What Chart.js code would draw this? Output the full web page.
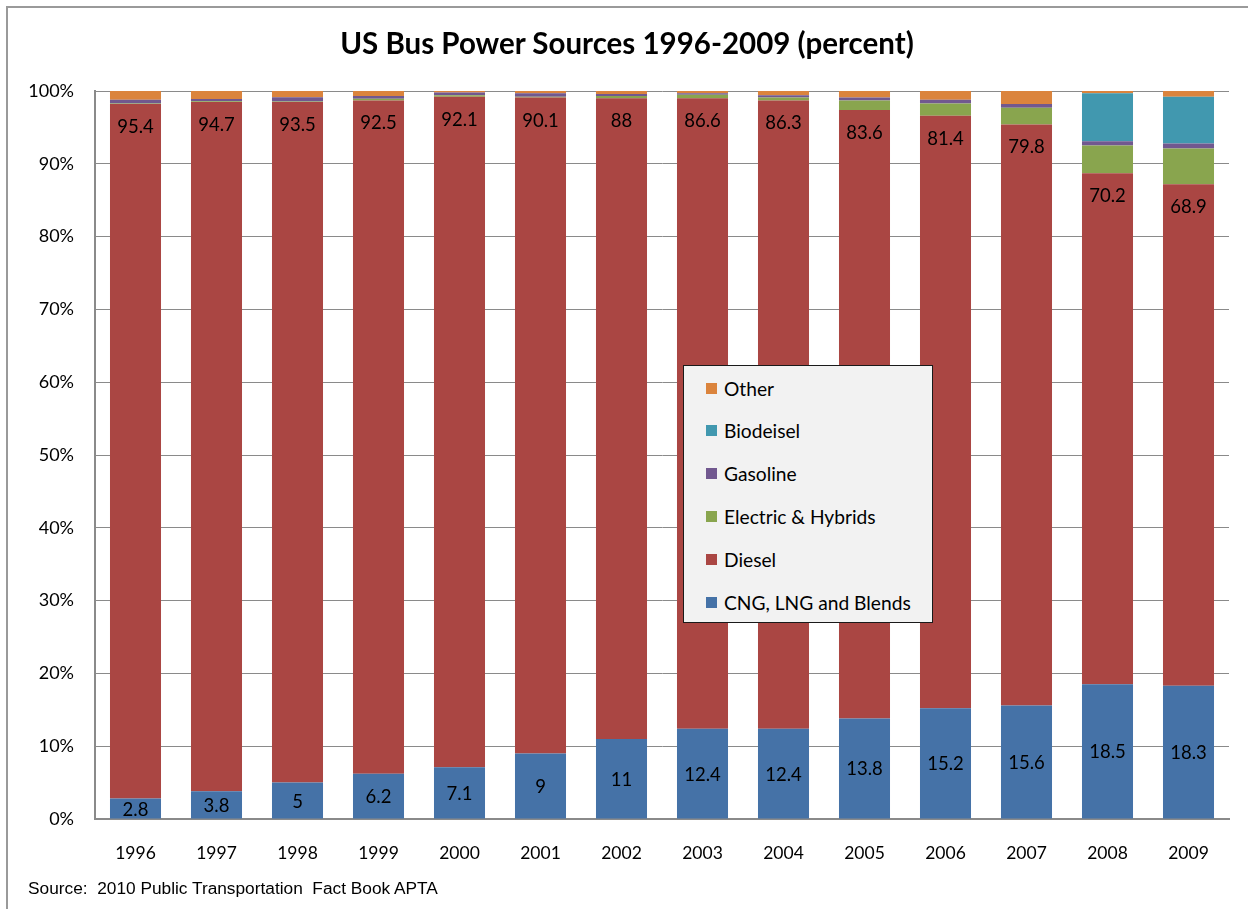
<!DOCTYPE html>
<html>
<head>
<meta charset="utf-8">
<script src="https://cdn.jsdelivr.net/npm/chart.js@4.4.1/dist/chart.umd.min.js"></script>
<style>
  body { margin: 0; background: #fff; }
  #wrap { position: relative; width: 1248px; height: 909px; overflow: hidden; }
  #frame { position: absolute; left: 6px; top: 6px; width: 1300px; height: 1000px;
           border-left: 2px solid #9a9a9a; border-top: 2px solid #9a9a9a; }
  #title { position: absolute; left: 0; width: 1254px; top: 25px; text-align: center;
           font: bold 29.5px Lato, "Open Sans", sans-serif; color: #000; }
  #source { position: absolute; left: 28px; top: 878px;
            font: 17.3px "Liberation Sans", Arial, sans-serif; color: #000; white-space: pre; }
  #legend { position: absolute; left: 683px; top: 365px; width: 248px; height: 256px;
            background: #f2f2f2; border: 1px solid #1a1a1a; }
  .item { position: absolute; left: 22px; height: 20px; font: 19.2px Lato, sans-serif; color: #000;
          display: flex; align-items: center; }
  .item span.sw { width: 11px; height: 11px; margin-right: 7px; display: inline-block; }
  canvas { position: absolute; left: 0; top: 0; }
</style>
</head>
<body>
<div id="wrap">
  <div id="frame"></div>
  <canvas id="chart" width="1248" height="909"></canvas>
  <div id="title">US Bus Power Sources 1996-2009 (percent)</div>
  <div id="legend"></div>
  <div id="source">Source:  2010 Public Transportation  Fact Book APTA</div>
</div>
<script>
const years = ['1996','1997','1998','1999','2000','2001','2002','2003','2004','2005','2006','2007','2008','2009'];

const cng      = [2.8, 3.8, 5, 6.2, 7.1, 9, 11, 12.4, 12.4, 13.8, 15.2, 15.6, 18.5, 18.3];
const diesel   = [95.4, 94.7, 93.5, 92.5, 92.1, 90.1, 88, 86.6, 86.3, 83.6, 81.4, 79.8, 70.2, 68.9];
const electric = [0.1, 0.1, 0.05, 0.25, 0.2, 0.1, 0.3, 0.5, 0.4, 1.3, 1.7, 2.3, 3.8, 4.9];
const gasoline = [0.5, 0.3, 0.6, 0.35, 0.4, 0.5, 0.3, 0.2, 0.3, 0.4, 0.5, 0.5, 0.6, 0.7];
const biodiesel = [0, 0, 0, 0, 0, 0, 0, 0, 0, 0, 0, 0, 6.6, 6.4];
const other    = [1.2, 1.1, 0.9, 0.7, 0.2, 0.3, 0.4, 0.3, 0.6, 0.9, 1.2, 1.8, 0.3, 0.8];

const yTicks = [0,10,20,30,40,50,60,70,80,90,100];

const series = [
  { label: 'CNG, LNG and Blends', data: cng, color: '#4572A7' },
  { label: 'Diesel', data: diesel, color: '#AA4643' },
  { label: 'Electric & Hybrids', data: electric, color: '#89A54E' },
  { label: 'Gasoline', data: gasoline, color: '#71588F' },
  { label: 'Biodeisel', data: biodiesel, color: '#4198AF' },
  { label: 'Other', data: other, color: '#DB843D' }
];

// value labels: CNG centered, Diesel near the top of its segment
const valueLabels = {
  id: 'valueLabels',
  afterDatasetsDraw(chart) {
    const ctx = chart.ctx;
    ctx.save();
    ctx.font = '18.5px Lato, sans-serif';
    ctx.fillStyle = '#000';
    ctx.textAlign = 'center';
    ctx.textBaseline = 'middle';
    chart.getDatasetMeta(0).data.forEach((bar, i) => {
      ctx.fillText(String(cng[i]), bar.x, (bar.y + bar.base) / 2 + 1);
    });
    chart.getDatasetMeta(1).data.forEach((bar, i) => {
      ctx.fillText(String(diesel[i]), bar.x, bar.y + 23);
    });
    ctx.restore();
  }
};

const chart = new Chart(document.getElementById('chart'), {
  type: 'bar',
  data: {
    labels: years,
    datasets: series.map(s => ({
      label: s.label,
      data: s.data,
      backgroundColor: s.color,
      borderWidth: 0,
      categoryPercentage: 1,
      barPercentage: 0.63
    }))
  },
  options: {
    responsive: false,
    animation: false,
    devicePixelRatio: 1,
    layout: { padding: { top: 91, right: 19, bottom: 40, left: 0 } },
    plugins: {
      legend: { display: false },
      title: { display: false },
      tooltip: { enabled: false }
    },
    scales: {
      x: {
        stacked: true,
        grid: { display: false, drawTicks: false },
        border: { display: true, color: '#8a8a8a', width: 2 },
        ticks: { color: '#000', font: { family: 'Lato', size: 17.5 }, padding: 24, maxRotation: 0 },
        afterFit(scale) { scale.height = 50; }
      },
      y: {
        stacked: true,
        min: 0,
        max: 100,
        afterBuildTicks(scale) { scale.ticks = yTicks.map(v => ({ value: v })); },
        grid: { color: '#8a8a8a', lineWidth: 1, drawTicks: false },
        border: { display: true, color: '#8a8a8a', width: 2 },
        ticks: {
          color: '#000', font: { family: 'Lato', size: 18 }, padding: 21,
          callback: v => v + '%'
        },
        afterFit(scale) { scale.width = 95; }
      }
    }
  },
  plugins: [valueLabels]
});

// legend box, listed top-down in reverse stack order
const legend = document.getElementById('legend');
chart.data.datasets.slice().reverse().forEach((ds, i) => {
  const el = document.createElement('div');
  el.className = 'item';
  el.style.top = (12 + i * 42.8) + 'px';
  el.innerHTML = '<span class="sw" style="background:' + ds.backgroundColor + '"></span>' + ds.label;
  legend.appendChild(el);
});
</script>
</body>
</html>
